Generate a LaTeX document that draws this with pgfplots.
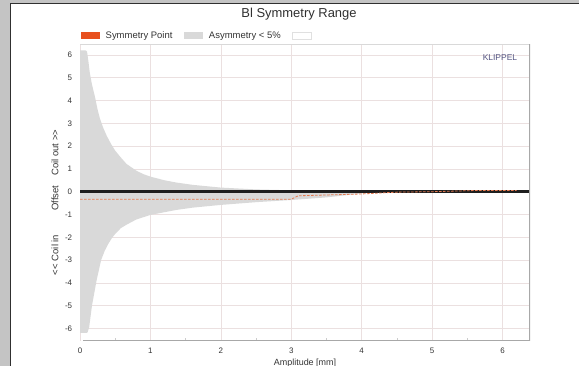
\documentclass[border=0pt]{standalone}
\usepackage{pgfplots}
\pgfplotsset{compat=1.18}
\usepackage{fontspec}
\setmainfont{Liberation Sans}
\definecolor{framegray}{HTML}{C4C4C4}
\definecolor{panelborder}{HTML}{303030}
\definecolor{titlec}{HTML}{303030}
\definecolor{labc}{HTML}{353535}
\definecolor{orangec}{HTML}{E8501E}
\definecolor{dashc}{HTML}{E57A50}
\definecolor{areagray}{HTML}{D9D9D9}
\definecolor{gridc}{HTML}{EBE0E0}
\definecolor{klippelc}{HTML}{555582}
\definecolor{axisgray}{HTML}{A8A8A8}
\definecolor{zeroline}{HTML}{1E1E1E}
\begin{document}
\begin{tikzpicture}
\fill[framegray] (0,0) rectangle (579bp,366bp);
\fill[white] (10bp,0) rectangle (579bp,362.3bp);
\draw[line width=1bp, panelborder] (10bp,0) -- (10bp,362.3bp) -- (579bp,362.3bp);
\begin{axis}[
  at={(80bp,25.3bp)}, anchor=south west,
  scale only axis, width=450bp, height=296.2bp,
  xmin=0, xmax=6.39, ymin=-6.54, ymax=6.46,
  xtick={0,1,...,6}, ytick={-6,-5,...,6},
  minor xtick={0.5,1.5,...,5.5},
  grid=major, major grid style={draw=gridc, line width=0.6bp},
  minor grid style={draw=none},
  axis line style={draw=none},
  major tick length=0pt, minor tick length=3bp,
  minor tick style={draw=black!20, line width=0.5bp},
  tick align=inside, xtick pos=bottom, ytick pos=left,
  /pgf/number format/assume math mode=true,
  ticklabel style={font=\fontsize{8}{9}\selectfont, text=labc, inner sep=0pt},
  xticklabel style={anchor=center, yshift=-10.3bp},
  yticklabel style={anchor=east, xshift=-7.7bp},
  title={Bl Symmetry Range},
  title style={at={(axis description cs:0.4867,1)}, anchor=base, yshift=21.5bp, font=\fontsize{13}{15}\selectfont, text=titlec, inner sep=0pt},
  xlabel={Amplitude [mm]},
  xlabel style={at={(axis description cs:0.5,0)}, anchor=base, yshift=-24.8bp, font=\fontsize{9}{10}\selectfont, text=labc, inner sep=0pt},
  ylabel={\textless\kern0.3bp\textless{} Coil in\hspace{24.3bp}Offset\hspace{9.9bp}Coil out \textgreater\kern0.3bp\textgreater},
  ylabel style={at={(axis description cs:-0.0556,0.4673)}, anchor=center, font=\fontsize{9.5}{10}\selectfont, text=labc, inner sep=0pt},
  legend columns=3,
  legend image code/.code={\path[#1] (0bp,-3.3bp) rectangle (19bp,3.3bp); \path[draw=none,fill=none] (19bp,0) -- (25bp,0);},
  legend style={at={(axis description cs:0,1)}, anchor=west, xshift=0.7bp, yshift=8.8bp,
    draw=none, fill=none, inner sep=0pt, outer sep=0pt, column sep=0pt,
    font=\fontsize{9.5}{10}\selectfont, text=labc,
    nodes={inner sep=0pt, text height=6.6bp, text depth=0pt},
    /tikz/every even column/.append style={column sep=11.5bp}},
  legend cell align=left,
]
\addlegendimage{fill=orangec, draw=none}
\addlegendentry{Symmetry Point}
\addlegendimage{fill=areagray, draw=none}
\addlegendentry{Asymmetry \textless{} 5\%}
\addlegendimage{fill=white, draw=black!12, line width=0.5bp}
\addlegendentry{}

% Asymmetry < 5% range: upper edge left to right, then lower edge right to left
\addplot[fill=areagray, draw=none, forget plot] coordinates {
(0,6.2) (0.08,6.2) (0.1,6.15) (0.12,5.7) (0.14,5.2) (0.17,4.7) (0.21,4.2)
(0.25,3.6) (0.284,3.2) (0.33,2.8) (0.38,2.45) (0.44,2.1) (0.5,1.8) (0.58,1.5)
(0.66,1.22) (0.8,0.92) (0.9,0.77) (1.0,0.66) (1.2,0.5) (1.37,0.4) (1.6,0.3)
(2.0,0.18) (2.5,0.1) (3.0,0.06) (3.5,0.02) (4.0,0.0) (4.5,0.0)
(4.0,-0.08) (3.5,-0.25) (3.02,-0.36) (2.5,-0.46) (2.0,-0.58) (1.6,-0.7)
(1.37,-0.8) (1.2,-0.9) (1.0,-1.02) (0.8,-1.22) (0.66,-1.45) (0.58,-1.6)
(0.5,-1.85) (0.45,-2.05) (0.4,-2.3) (0.35,-2.6) (0.3,-3.0) (0.237,-3.87)
(0.17,-5.0) (0.13,-5.95) (0.11,-6.15) (0.1,-6.2) (0,-6.2)} --cycle;

\addplot[zeroline, line width=2.8bp, forget plot] coordinates {(0,0) (6.39,0)};
\addplot[dashc, line width=0.8bp, dash pattern=on 2.5bp off 1.5bp, forget plot] coordinates {
(0,-0.33) (1,-0.33) (2,-0.33) (3.0,-0.33) (3.1,-0.18) (4.0,-0.1) (4.5,-0.02)
(5.0,0.0) (5.6,0.05) (6.2,0.05)};

\draw[draw=black!15, line width=0.6bp] (axis description cs:0,1) -- (axis description cs:1,1);
\draw[draw=axisgray, line width=2bp] (axis description cs:1,1) -- (axis description cs:1,0);
\draw[draw=axisgray, line width=2.2bp] (axis description cs:0.007,0) -- (axis description cs:1,0);
\node[anchor=east, font=\fontsize{8.5}{9}\selectfont, text=klippelc, inner sep=0pt] at (axis description cs:0.9718,0.9544) {KLIPPEL};
\end{axis}
\pgfresetboundingbox
\useasboundingbox (0,0) rectangle (579bp,366bp);
\end{tikzpicture}
\end{document}
